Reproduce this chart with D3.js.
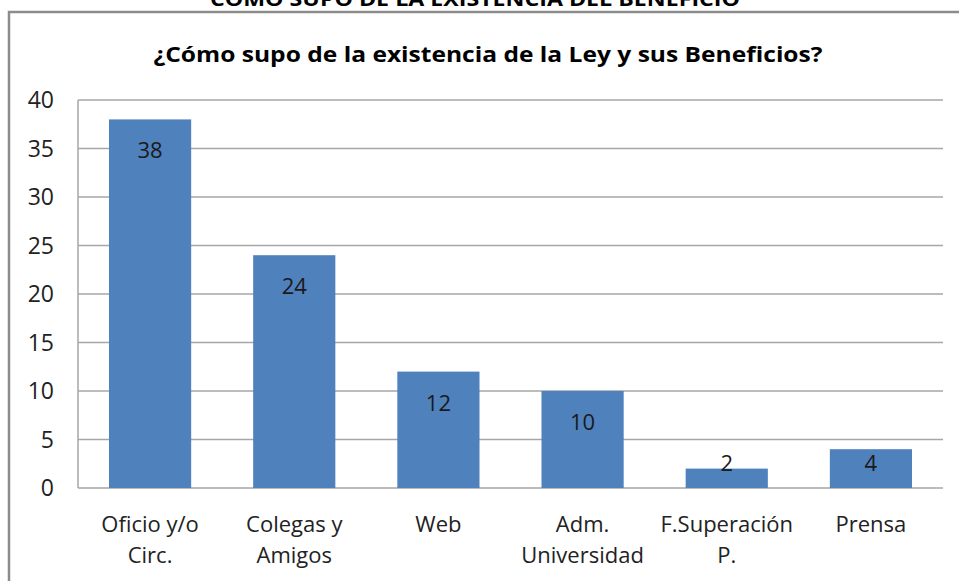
<!DOCTYPE html>
<html>
<head>
<meta charset="utf-8">
<script src="https://cdn.jsdelivr.net/npm/d3@7"></script>
<style>
body { margin:0; background:#fff; }
svg text { font-family: "Open Sans", "Noto Sans", sans-serif; }
</style>
</head>
<body>
<div id="chart"></div>
<script>
var categories = [["Oficio y/o", "Circ."], ["Colegas y", "Amigos"], ["Web"], ["Adm.", "Universidad"], ["F.Superación", "P."], ["Prensa"]];
var values = [38, 24, 12, 10, 2, 4];
var yTicks = [0, 5, 10, 15, 20, 25, 30, 35, 40];

var W = 959, H = 581;
var svg = d3.select("#chart").append("svg")
            .attr("width", W)
            .attr("height", H);

// title of the page, clipped at the top
svg.append("text").text("COMO SUPO DE LA EXISTENCIA DEL BENEFICIO")
   .attr("x", 475).attr("y", 6)
   .attr("text-anchor", "middle")
   .attr("font-size", "20px")
   .attr("font-weight", "bold")
   .attr("textLength", 530)
   .attr("lengthAdjust", "spacingAndGlyphs");

// chart frame
svg.append("rect")
   .attr("x", 9).attr("y", 12)
   .attr("width", 970).attr("height", 600)
   .attr("fill", "white")
   .attr("stroke", "#8c8c8c")
   .attr("stroke-width", 2.5);

svg.append("text").text("¿Cómo supo de la existencia de la Ley y sus Beneficios?")
   .attr("x", 488).attr("y", 62)
   .attr("text-anchor", "middle")
   .attr("font-size", "22px")
   .attr("font-weight", "bold")
   .attr("fill", "#000")
   .attr("textLength", 669)
   .attr("lengthAdjust", "spacingAndGlyphs");

var pLeft = 78, pRight = 943, pTop = 100, pBottom = 488;

var x = d3.scaleBand()
          .domain(d3.range(values.length))
          .range([pLeft, pRight])
          .paddingInner(0.43)
          .paddingOuter(0.215);

var y = d3.scaleLinear().domain([0, 40]).range([pBottom, pTop]);

// gridlines
svg.append("g").selectAll("line")
   .data(yTicks)
   .enter().append("line")
   .attr("x1", pLeft).attr("x2", pRight)
   .attr("y1", function(d){ return y(d); })
   .attr("y2", function(d){ return y(d); })
   .attr("stroke", "#a6a6a6")
   .attr("stroke-width", 1.5);

svg.append("line")
   .attr("x1", pLeft).attr("x2", pLeft)
   .attr("y1", pTop).attr("y2", pBottom)
   .attr("stroke", "#a6a6a6")
   .attr("stroke-width", 1.5);

// y tick labels
svg.append("g").selectAll("text")
   .data(yTicks)
   .enter().append("text")
   .text(function(d){ return d; })
   .attr("x", 54)
   .attr("y", function(d){ return y(d) + 8; })
   .attr("text-anchor", "end")
   .attr("font-size", "23px")
   .attr("fill", "#222");

// bars
svg.append("g").selectAll("rect")
   .data(values)
   .enter().append("rect")
   .attr("x", function(d, i){ return x(i); })
   .attr("y", function(d){ return y(d); })
   .attr("width", x.bandwidth())
   .attr("height", function(d){ return pBottom - y(d); })
   .attr("fill", "#4f81bd");

// data labels
svg.append("g").selectAll("text")
   .data(values)
   .enter().append("text")
   .text(function(d){ return d; })
   .attr("x", function(d, i){ return x(i) + x.bandwidth() / 2; })
   .attr("y", function(d){ return Math.min(y(d) + 31, y(2.6)) + 8; })
   .attr("text-anchor", "middle")
   .attr("font-size", "22px")
   .attr("fill", "#1a1a1a");

// category labels
var xl = svg.append("g").selectAll("text")
   .data(categories)
   .enter().append("text")
   .attr("x", function(d, i){ return x(i) + x.bandwidth() / 2; })
   .attr("y", 532)
   .attr("text-anchor", "middle")
   .attr("font-size", "22px")
   .attr("fill", "#222");

xl.selectAll("tspan")
  .data(function(d){ return d; })
  .enter().append("tspan")
  .text(function(d){ return d; })
  .attr("x", function(){ return d3.select(this.parentNode).attr("x"); })
  .attr("dy", function(d, i){ return i == 0 ? 0 : 31; });
</script>
</body>
</html>
